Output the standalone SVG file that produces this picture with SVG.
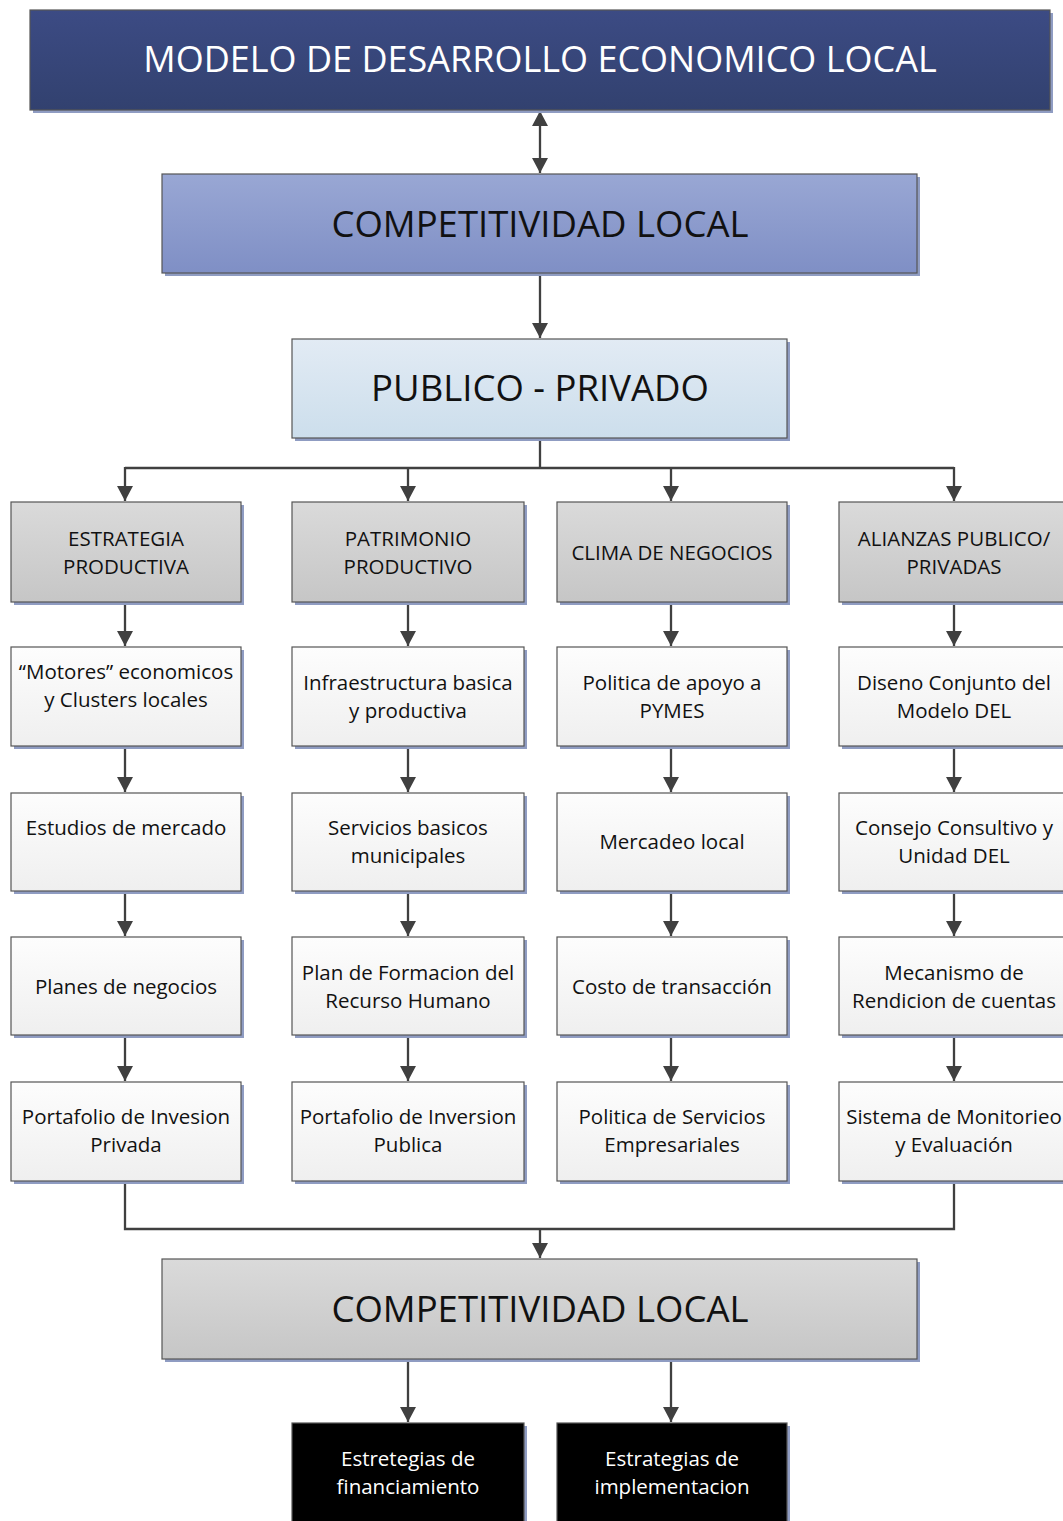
<svg xmlns="http://www.w3.org/2000/svg" width="1063" height="1521" viewBox="0 0 1063 1521">
  <defs>
    <linearGradient id="gNavy" x1="0" y1="0" x2="0" y2="1">
      <stop offset="0" stop-color="#3c4b84"/>
      <stop offset="1" stop-color="#32416f"/>
    </linearGradient>
    <linearGradient id="gBlue" x1="0" y1="0" x2="0" y2="1">
      <stop offset="0" stop-color="#99a7d4"/>
      <stop offset="1" stop-color="#7f8fc5"/>
    </linearGradient>
    <linearGradient id="gPale" x1="0" y1="0" x2="0" y2="1">
      <stop offset="0" stop-color="#e2ebf4"/>
      <stop offset="1" stop-color="#ccdeec"/>
    </linearGradient>
    <linearGradient id="gGray" x1="0" y1="0" x2="0" y2="1">
      <stop offset="0" stop-color="#dadada"/>
      <stop offset="1" stop-color="#c6c6c6"/>
    </linearGradient>
    <linearGradient id="gWhite" x1="0" y1="0" x2="0" y2="1">
      <stop offset="0" stop-color="#fdfdfd"/>
      <stop offset="1" stop-color="#efefef"/>
    </linearGradient>
    <marker id="arrow" viewBox="0 0 15 16" refX="15" refY="8" markerWidth="15" markerHeight="16" markerUnits="userSpaceOnUse" orient="auto-start-reverse">
      <path d="M0,0 L15,8 L0,16 z" fill="#404040"/>
    </marker>
  </defs>
  <style>
    .shadow { fill: #8f9cc2; }
    .box { stroke: #555555; stroke-width: 1.2; }
    .navy { fill: url(#gNavy); }
    .blue { fill: url(#gBlue); }
    .pale { fill: url(#gPale); }
    .gray { fill: url(#gGray); }
    .white { fill: url(#gWhite); }
    .black { fill: #000000; }
    text { font-family: "Open Sans", "Liberation Sans", sans-serif; text-anchor: middle; fill: #111111; }
    .big { font-size: 36.5px; }
    .head { font-size: 36px; }
    .sm { font-size: 20.5px; }
    .inv { fill: #ffffff; }
    .conn { fill: none; stroke: #404040; stroke-width: 2.3; }
  </style>

  <rect width="1063" height="1521" fill="#ffffff"/>

  <!-- connectors -->
  <g id="connectors">
    <path class="conn" d="M540,111 V173" marker-start="url(#arrow)" marker-end="url(#arrow)"/>
    <path class="conn" d="M540,274 V338" marker-end="url(#arrow)"/>
    <path class="conn" d="M540,439 V468 M125,468 H954"/>
    <path class="conn" d="M125,467 V501" marker-end="url(#arrow)"/>
    <path class="conn" d="M408,467 V501" marker-end="url(#arrow)"/>
    <path class="conn" d="M671,467 V501" marker-end="url(#arrow)"/>
    <path class="conn" d="M954,467 V501" marker-end="url(#arrow)"/>

    <path class="conn" d="M125,603 V646" marker-end="url(#arrow)"/>
    <path class="conn" d="M408,603 V646" marker-end="url(#arrow)"/>
    <path class="conn" d="M671,603 V646" marker-end="url(#arrow)"/>
    <path class="conn" d="M954,603 V646" marker-end="url(#arrow)"/>

    <path class="conn" d="M125,747 V792" marker-end="url(#arrow)"/>
    <path class="conn" d="M408,747 V792" marker-end="url(#arrow)"/>
    <path class="conn" d="M671,747 V792" marker-end="url(#arrow)"/>
    <path class="conn" d="M954,747 V792" marker-end="url(#arrow)"/>

    <path class="conn" d="M125,892 V936" marker-end="url(#arrow)"/>
    <path class="conn" d="M408,892 V936" marker-end="url(#arrow)"/>
    <path class="conn" d="M671,892 V936" marker-end="url(#arrow)"/>
    <path class="conn" d="M954,892 V936" marker-end="url(#arrow)"/>

    <path class="conn" d="M125,1036 V1081" marker-end="url(#arrow)"/>
    <path class="conn" d="M408,1036 V1081" marker-end="url(#arrow)"/>
    <path class="conn" d="M671,1036 V1081" marker-end="url(#arrow)"/>
    <path class="conn" d="M954,1036 V1081" marker-end="url(#arrow)"/>

    <path class="conn" d="M125,1182 V1229 H954 V1182"/>
    <path class="conn" d="M540,1229 V1258" marker-end="url(#arrow)"/>

    <path class="conn" d="M408,1360 V1422" marker-end="url(#arrow)"/>
    <path class="conn" d="M671,1360 V1422" marker-end="url(#arrow)"/>
  </g>

  <!-- top header -->
  <g id="n-modelo">
    <rect class="shadow" x="33" y="13" width="1020" height="100"/>
    <rect class="box navy" x="30" y="10" width="1020" height="100"/>
    <text class="head inv" x="540" y="72">MODELO DE DESARROLLO ECONOMICO LOCAL</text>
  </g>

  <g id="n-competitividad-1">
    <rect class="shadow" x="165" y="177" width="755" height="99"/>
    <rect class="box blue" x="162" y="174" width="755" height="99"/>
    <text class="big" x="540" y="237">COMPETITIVIDAD LOCAL</text>
  </g>

  <g id="n-publico">
    <rect class="shadow" x="295" y="342" width="495" height="99"/>
    <rect class="box pale" x="292" y="339" width="495" height="99"/>
    <text class="big" x="540" y="401">PUBLICO - PRIVADO</text>
  </g>

  <!-- column 1 -->
  <g id="n-estrategia">
    <rect class="shadow" x="14" y="505" width="230" height="100"/>
    <rect class="box gray" x="11" y="502" width="230" height="100"/>
    <text class="sm" x="126"><tspan x="126" y="546">ESTRATEGIA</tspan><tspan x="126" y="574">PRODUCTIVA</tspan></text>
  </g>
  <g id="n-motores">
    <rect class="shadow" x="14" y="650" width="230" height="99"/>
    <rect class="box white" x="11" y="647" width="230" height="99"/>
    <text class="sm" x="126"><tspan x="126" y="679">“Motores” economicos</tspan><tspan x="126" y="707">y Clusters locales</tspan></text>
  </g>
  <g id="n-estudios">
    <rect class="shadow" x="14" y="796" width="230" height="98"/>
    <rect class="box white" x="11" y="793" width="230" height="98"/>
    <text class="sm" x="126" y="835">Estudios de mercado</text>
  </g>
  <g id="n-planes">
    <rect class="shadow" x="14" y="940" width="230" height="98"/>
    <rect class="box white" x="11" y="937" width="230" height="98"/>
    <text class="sm" x="126" y="994">Planes de negocios</text>
  </g>
  <g id="n-portafolio-privada">
    <rect class="shadow" x="14" y="1085" width="230" height="99"/>
    <rect class="box white" x="11" y="1082" width="230" height="99"/>
    <text class="sm" x="126"><tspan x="126" y="1124">Portafolio de Invesion</tspan><tspan x="126" y="1152">Privada</tspan></text>
  </g>

  <!-- column 2 -->
  <g id="n-patrimonio">
    <rect class="shadow" x="295" y="505" width="232" height="100"/>
    <rect class="box gray" x="292" y="502" width="232" height="100"/>
    <text class="sm" x="408"><tspan x="408" y="546">PATRIMONIO</tspan><tspan x="408" y="574">PRODUCTIVO</tspan></text>
  </g>
  <g id="n-infraestructura">
    <rect class="shadow" x="295" y="650" width="232" height="99"/>
    <rect class="box white" x="292" y="647" width="232" height="99"/>
    <text class="sm" x="408"><tspan x="408" y="690">Infraestructura basica</tspan><tspan x="408" y="718">y productiva</tspan></text>
  </g>
  <g id="n-servicios-basicos">
    <rect class="shadow" x="295" y="796" width="232" height="98"/>
    <rect class="box white" x="292" y="793" width="232" height="98"/>
    <text class="sm" x="408"><tspan x="408" y="835">Servicios basicos</tspan><tspan x="408" y="863">municipales</tspan></text>
  </g>
  <g id="n-plan-formacion">
    <rect class="shadow" x="295" y="940" width="232" height="98"/>
    <rect class="box white" x="292" y="937" width="232" height="98"/>
    <text class="sm" x="408"><tspan x="408" y="980">Plan de Formacion del</tspan><tspan x="408" y="1008">Recurso Humano</tspan></text>
  </g>
  <g id="n-portafolio-publica">
    <rect class="shadow" x="295" y="1085" width="232" height="99"/>
    <rect class="box white" x="292" y="1082" width="232" height="99"/>
    <text class="sm" x="408"><tspan x="408" y="1124">Portafolio de Inversion</tspan><tspan x="408" y="1152">Publica</tspan></text>
  </g>

  <!-- column 3 -->
  <g id="n-clima">
    <rect class="shadow" x="560" y="505" width="230" height="100"/>
    <rect class="box gray" x="557" y="502" width="230" height="100"/>
    <text class="sm" x="672" y="560">CLIMA DE NEGOCIOS</text>
  </g>
  <g id="n-politica-pymes">
    <rect class="shadow" x="560" y="650" width="230" height="99"/>
    <rect class="box white" x="557" y="647" width="230" height="99"/>
    <text class="sm" x="672"><tspan x="672" y="690">Politica de apoyo a</tspan><tspan x="672" y="718">PYMES</tspan></text>
  </g>
  <g id="n-mercadeo">
    <rect class="shadow" x="560" y="796" width="230" height="98"/>
    <rect class="box white" x="557" y="793" width="230" height="98"/>
    <text class="sm" x="672" y="849">Mercadeo local</text>
  </g>
  <g id="n-costo">
    <rect class="shadow" x="560" y="940" width="230" height="98"/>
    <rect class="box white" x="557" y="937" width="230" height="98"/>
    <text class="sm" x="672" y="994">Costo de transacción</text>
  </g>
  <g id="n-politica-servicios">
    <rect class="shadow" x="560" y="1085" width="230" height="99"/>
    <rect class="box white" x="557" y="1082" width="230" height="99"/>
    <text class="sm" x="672"><tspan x="672" y="1124">Politica de Servicios</tspan><tspan x="672" y="1152">Empresariales</tspan></text>
  </g>

  <!-- column 4 -->
  <g id="n-alianzas">
    <rect class="shadow" x="842" y="505" width="230" height="100"/>
    <rect class="box gray" x="839" y="502" width="230" height="100"/>
    <text class="sm" x="954"><tspan x="954" y="546">ALIANZAS PUBLICO/</tspan><tspan x="954" y="574">PRIVADAS</tspan></text>
  </g>
  <g id="n-diseno">
    <rect class="shadow" x="842" y="650" width="230" height="99"/>
    <rect class="box white" x="839" y="647" width="230" height="99"/>
    <text class="sm" x="954"><tspan x="954" y="690">Diseno Conjunto del</tspan><tspan x="954" y="718">Modelo DEL</tspan></text>
  </g>
  <g id="n-consejo">
    <rect class="shadow" x="842" y="796" width="230" height="98"/>
    <rect class="box white" x="839" y="793" width="230" height="98"/>
    <text class="sm" x="954"><tspan x="954" y="835">Consejo Consultivo y</tspan><tspan x="954" y="863">Unidad DEL</tspan></text>
  </g>
  <g id="n-mecanismo">
    <rect class="shadow" x="842" y="940" width="230" height="98"/>
    <rect class="box white" x="839" y="937" width="230" height="98"/>
    <text class="sm" x="954"><tspan x="954" y="980">Mecanismo de</tspan><tspan x="954" y="1008">Rendicion de cuentas</tspan></text>
  </g>
  <g id="n-sistema">
    <rect class="shadow" x="842" y="1085" width="230" height="99"/>
    <rect class="box white" x="839" y="1082" width="230" height="99"/>
    <text class="sm" x="954"><tspan x="954" y="1124">Sistema de Monitorieo</tspan><tspan x="954" y="1152">y Evaluación</tspan></text>
  </g>

  <!-- bottom -->
  <g id="n-competitividad-2">
    <rect class="shadow" x="165" y="1262" width="755" height="100"/>
    <rect class="box gray" x="162" y="1259" width="755" height="100"/>
    <text class="big" x="540" y="1322">COMPETITIVIDAD LOCAL</text>
  </g>
  <g id="n-financiamiento">
    <rect class="shadow" x="295" y="1426" width="232" height="100"/>
    <rect class="box black" x="292" y="1423" width="232" height="100"/>
    <text class="sm inv" x="408"><tspan x="408" y="1466">Estretegias de</tspan><tspan x="408" y="1494">financiamiento</tspan></text>
  </g>
  <g id="n-implementacion">
    <rect class="shadow" x="560" y="1426" width="230" height="100"/>
    <rect class="box black" x="557" y="1423" width="230" height="100"/>
    <text class="sm inv" x="672"><tspan x="672" y="1466">Estrategias de</tspan><tspan x="672" y="1494">implementacion</tspan></text>
  </g>
</svg>
